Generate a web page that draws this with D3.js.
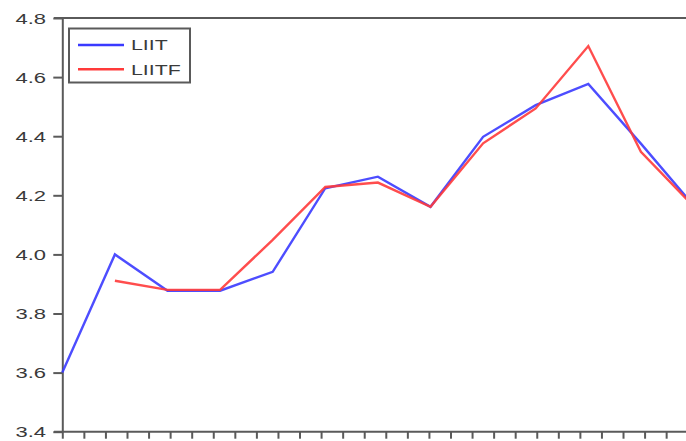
<!DOCTYPE html>
<html><head><meta charset="utf-8">
<script src="https://cdn.jsdelivr.net/npm/d3@7"></script>
<style>
body{margin:0;background:#fff;}
svg{display:block;}
</style></head>
<body><svg id="c" width="686" height="441"></svg>
<script>
const periods = [0,1,2,3,4,5,6,7,8,9,10,11,12];
const liit  = [3.600, 4.000, 3.877, 3.877, 3.941, 4.224, 4.263, 4.161, 4.398, 4.505, 4.577, 4.375, 4.166];
const liitf = [null, 3.911, 3.880, 3.880, 4.049, 4.228, 4.243, 4.161, 4.376, 4.494, 4.705, 4.347, 4.163];
const yTicks = [3.4, 3.6, 3.8, 4.0, 4.2, 4.4, 4.6, 4.8];
const seriesNames = ["LIIT", "LIITF"];
const seriesColors = ["#3a3aff", "#ff3a3a"];

const svg = d3.select("#c");
const W = 686, H = 441;
const x = d3.scaleLinear().domain([0, 10]).range([62.3, 588.3]);
const y = d3.scaleLinear().domain([3.4, 4.8]).range([431.7, 18]);
const axisColor = "#5a5a5a";
const textColor = "#3a3a3a";
const sx = 1.42;

// frame top line
svg.append("line").attr("x1", 54).attr("x2", W).attr("y1", y(4.8)).attr("y2", y(4.8))
  .attr("stroke", axisColor).attr("stroke-width", 2);

// y axis
const ya = svg.append("g").attr("transform", `translate(${x(0)},0)`)
  .call(d3.axisLeft(y).tickValues(yTicks).tickSize(9).tickSizeOuter(0).tickFormat(d3.format(".1f")));
ya.select(".domain").attr("stroke", axisColor).attr("stroke-width", 2);
ya.selectAll(".tick line").attr("stroke", axisColor).attr("stroke-width", 2);
ya.selectAll(".tick text").remove();
yTicks.forEach(v => {
  svg.append("text")
    .attr("transform", `translate(46,${y(v)}) scale(${sx},1)`)
    .attr("text-anchor", "end").attr("dy", "0.36em")
    .attr("font-family", "Liberation Sans, Arial, sans-serif")
    .attr("font-size", 15.5).attr("fill", textColor)
    .text(d3.format(".1f")(v));
});

// x axis with minor ticks
const xTickVals = d3.range(0, 15.5, 0.41);
const xa = svg.append("g").attr("transform", `translate(0,${y(3.4)})`)
  .call(d3.axisBottom(x).tickValues(xTickVals).tickSize(7).tickSizeOuter(0).tickFormat(""));
xa.select(".domain").remove();
xa.selectAll(".tick line").attr("stroke", axisColor).attr("stroke-width", 2);
svg.append("line").attr("x1", 54).attr("x2", W).attr("y1", y(3.4)).attr("y2", y(3.4))
  .attr("stroke", axisColor).attr("stroke-width", 2);

// lines
const line = d3.line().defined(d => d[1] != null).x(d => x(d[0])).y(d => y(d[1]));
[liit, liitf].forEach((s, i) => {
  svg.append("path").datum(periods.map((p, j) => [p, s[j]]))
    .attr("d", line).attr("fill", "none")
    .attr("stroke", seriesColors[i]).attr("stroke-width", 2.4)
    .attr("stroke-linejoin", "miter").attr("opacity", 0.9);
});

// legend
const lg = svg.append("g");
lg.append("rect").attr("x", 69).attr("y", 28.5).attr("width", 121).attr("height", 54)
  .attr("fill", "#fff").attr("stroke", axisColor).attr("stroke-width", 2);
seriesNames.forEach((n, i) => {
  const yy = 45 + i * 24.3;
  lg.append("line").attr("x1", 78).attr("x2", 124).attr("y1", yy).attr("y2", yy)
    .attr("stroke", seriesColors[i]).attr("stroke-width", 2.4);
  lg.append("text")
    .attr("transform", `translate(131,${yy}) scale(${sx},1)`)
    .attr("dy", "0.36em")
    .attr("font-family", "Liberation Sans, Arial, sans-serif")
    .attr("font-size", 15).attr("fill", textColor)
    .text(n);
});
</script>
</body></html>
